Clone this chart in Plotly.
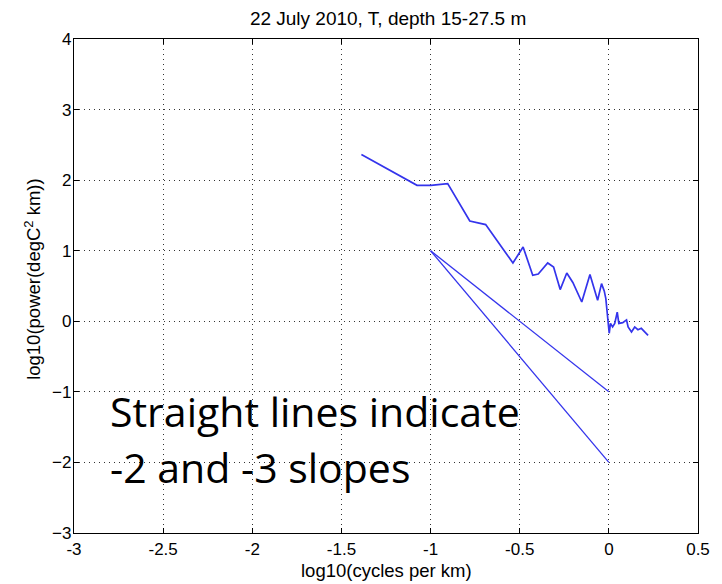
import plotly.graph_objects as go

# Temperature spectrum, 22 July 2010, depth 15-27.5 m
log_k = [-1.388, -1.076, -0.998, -0.904, -0.780, -0.691, -0.538, -0.481, -0.427, -0.396,
         -0.343, -0.310, -0.273, -0.236, -0.202, -0.152, -0.106, -0.063, -0.041, -0.026,
         -0.017, -0.009, 0.002, 0.009, 0.021, 0.033, 0.047, 0.056, 0.078, 0.099,
         0.108, 0.127, 0.145, 0.163, 0.182, 0.201, 0.220]
log_power = [2.362, 1.927, 1.927, 1.951, 1.421, 1.370, 0.826, 1.053, 0.652, 0.67,
             0.826, 0.77, 0.449, 0.684, 0.55, 0.273, 0.662, 0.298, 0.534, 0.43,
             0.32, 0.11, -0.17, -0.03, -0.08, -0.03, 0.13, -0.03, -0.02, 0.02,
             -0.08, -0.15, -0.08, -0.12, -0.10, -0.15, -0.2]

# Reference slopes starting at (-1, 1)
slope_x = [-1, 0]
slope_minus2 = [1, -1]
slope_minus3 = [1, -2]

x_ticks = [-3, -2.5, -2, -1.5, -1, -0.5, 0, 0.5]
x_tick_text = ["-3", "-2.5", "-2", "-1.5", "-1", "-0.5", "0", "0.5"]
y_ticks = [-3, -2, -1, 0, 1, 2, 3, 4]

BLUE = "#3434ec"
FAMILY = "Liberation Sans, Arial, sans-serif"
TICK_FONT = dict(family=FAMILY, size=17, color="black")
LABEL_FONT = dict(family=FAMILY, size=18.5, color="black")

fig = go.Figure()
fig.add_trace(go.Scatter(x=log_k, y=log_power, mode="lines",
                         line=dict(color=BLUE, width=1.7), showlegend=False))
fig.add_trace(go.Scatter(x=slope_x, y=slope_minus2, mode="lines",
                         line=dict(color=BLUE, width=1.3), showlegend=False))
fig.add_trace(go.Scatter(x=slope_x, y=slope_minus3, mode="lines",
                         line=dict(color=BLUE, width=1.3), showlegend=False))

axis_common = dict(
    showline=True, linecolor="black", linewidth=1.2, mirror="allticks",
    ticks="inside", ticklen=5, tickwidth=1, tickcolor="black",
    showgrid=True, gridcolor="#333333", gridwidth=1, griddash="1px,4px",
    zeroline=False, tickfont=TICK_FONT,
)

fig.update_xaxes(range=[-3, 0.5], tickvals=x_ticks, ticktext=x_tick_text, **axis_common)
fig.update_yaxes(range=[-3, 4], tickvals=y_ticks, ticklabelstandoff=-2, **axis_common)

fig.update_layout(
    width=722, height=584,
    margin=dict(l=74, r=20, t=39, b=51),
    paper_bgcolor="white", plot_bgcolor="white",
    title=dict(text="22 July 2010, T, depth 15-27.5 m", x=0.5375, xanchor="center",
               y=1 - 18 / 584, yanchor="middle", yref="container",
               font=dict(family=FAMILY, size=19, color="black")),
)

# Axis labels
fig.add_annotation(text="log10(cycles per km)", xref="paper", yref="paper",
                   x=0.5, y=-37 / 494, xanchor="center", yanchor="middle",
                   showarrow=False, font=LABEL_FONT)
fig.add_annotation(text="log10(power(degC<sup>2</sup> km))", xref="paper", yref="paper",
                   x=-42 / 628, y=0.515, xanchor="center", yanchor="middle",
                   textangle=-90, showarrow=False, font=LABEL_FONT)

# Slide-style note inside the axes
NOTE_FONT = dict(family="Open Sans, Lato, sans-serif", size=41, color="black")
fig.add_annotation(text="Straight lines indicate", x=-2.808, y=-1.27,
                   xanchor="left", yanchor="middle", showarrow=False, font=NOTE_FONT)
fig.add_annotation(text="-2 and -3 slopes", x=-2.808, y=-2.07,
                   xanchor="left", yanchor="middle", showarrow=False, font=NOTE_FONT)

fig.write_html("out.html")
